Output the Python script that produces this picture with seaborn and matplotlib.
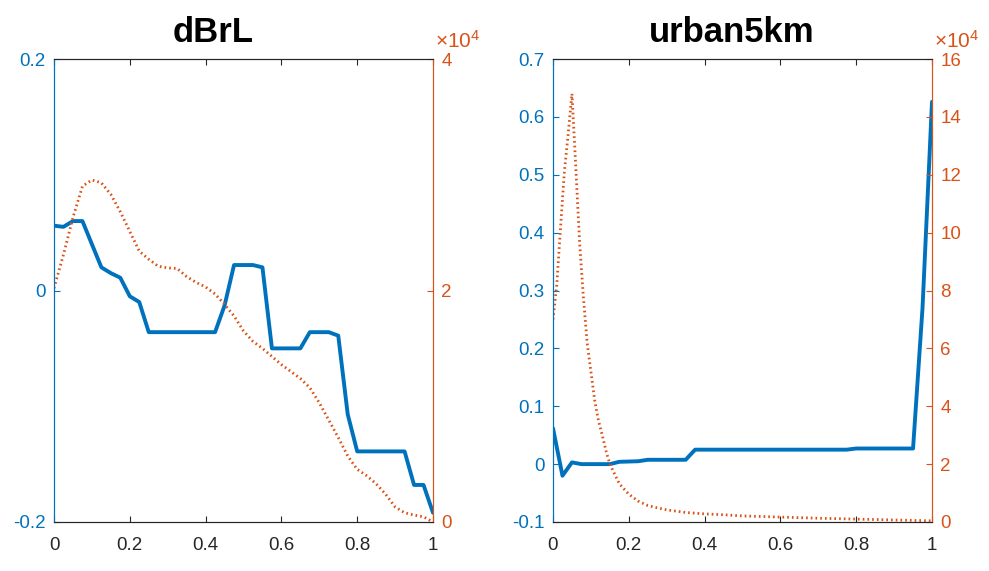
import matplotlib
matplotlib.use("Agg")
import matplotlib.pyplot as plt
import seaborn as sns
from matplotlib.ticker import FuncFormatter, FixedLocator

# ---------------- data ----------------
x_grid = [0.0, 0.025, 0.05, 0.075, 0.1, 0.125, 0.15, 0.175, 0.2, 0.225,
          0.25, 0.275, 0.3, 0.325, 0.35, 0.375, 0.4, 0.425, 0.45, 0.475,
          0.5, 0.525, 0.55, 0.575, 0.6, 0.625, 0.65, 0.675, 0.7, 0.725,
          0.75, 0.775, 0.8, 0.825, 0.85, 0.875, 0.9, 0.925, 0.95, 0.975, 1.0]

dbrl_effect = [0.056, 0.055, 0.060, 0.060, 0.040, 0.020, 0.015, 0.011, -0.005, -0.010,
               -0.036, -0.036, -0.036, -0.036, -0.036, -0.036, -0.036, -0.036, -0.013, 0.022,
               0.022, 0.022, 0.020, -0.050, -0.050, -0.050, -0.050, -0.036, -0.036, -0.036,
               -0.039, -0.107, -0.139, -0.139, -0.139, -0.139, -0.139, -0.139, -0.168, -0.168, -0.192]

dbrl_count = [20200, 23100, 26300, 29000, 29550, 29300, 28300, 26800, 25100, 23400,
              22700, 22100, 21950, 21900, 21200, 20700, 20300, 19700, 18800, 17800,
              16500, 15600, 15000, 14300, 13600, 13000, 12400, 11600, 10300, 8800,
              7300, 5700, 4550, 4000, 3300, 2400, 1300, 800, 600, 450, 0]

urban_effect = [0.062, -0.020, 0.003, 0.0, 0.0, 0.0, 0.0, 0.004, 0.0045, 0.005,
                0.0075, 0.0075, 0.0075, 0.0075, 0.0075, 0.025, 0.025, 0.025, 0.025, 0.025,
                0.025, 0.025, 0.025, 0.025, 0.025, 0.025, 0.025, 0.025, 0.025, 0.025,
                0.025, 0.025, 0.027, 0.027, 0.027, 0.027, 0.027, 0.027, 0.027, 0.27, 0.626]

urban_count_x = [0.0, 0.01, 0.02, 0.03, 0.04, 0.05, 0.06, 0.07, 0.08, 0.09,
                 0.10, 0.11, 0.12, 0.13, 0.14, 0.15, 0.175, 0.2, 0.225, 0.25,
                 0.275, 0.3, 0.35, 0.4, 0.45, 0.5, 0.6, 0.7, 0.8, 0.9, 1.0]
urban_count = [70000, 82000, 102000, 121000, 134000, 148000, 123000, 97000, 78000, 62000,
               52000, 42000, 35000, 30000, 24500, 20000, 13200, 9600, 7200, 5700,
               4900, 4200, 3300, 2800, 2500, 2100, 1700, 1300, 1000, 700, 400]

titles = ["dBrL", "urban5km"]
x_ticks = [0, 0.2, 0.4, 0.6, 0.8, 1]
left_ticks = [[-0.2, 0, 0.2], [-0.1, 0, 0.1, 0.2, 0.3, 0.4, 0.5, 0.6, 0.7]]
left_lims = [(-0.2, 0.2), (-0.1, 0.7)]
right_ticks = [[0, 20000, 40000], [0, 20000, 40000, 60000, 80000, 100000, 120000, 140000, 160000]]
right_lims = [(0, 40000), (0, 160000)]

# ---------------- style ----------------
BLUE = "#0072BD"
ORANGE = "#D95319"
DARK = "#262626"

sns.set_theme(style="white")
plt.rcParams["font.family"] = ["Liberation Sans", "DejaVu Sans"]
plt.rcParams["axes.unicode_minus"] = False
plt.rcParams["mathtext.fontset"] = "custom"
plt.rcParams["mathtext.rm"] = "Liberation Sans"

fig = plt.figure(figsize=(9.89, 5.71), dpi=100)
W, H = 989, 571
positions = [(54, 433), (553, 932)]
title_x = [0.42, 0.472]
top_px, bot_px = 59, 522

panels = [
    (x_grid, dbrl_effect, x_grid, dbrl_count),
    (x_grid, urban_effect, urban_count_x, urban_count),
]

fmt_g = FuncFormatter(lambda v, p: "%g" % round(v, 6))
fmt_e4 = FuncFormatter(lambda v, p: "%g" % (v / 1e4))

for i, (xb, yb, xo, yo) in enumerate(panels):
    l, r = positions[i]
    ax = fig.add_axes([l / W, 1 - bot_px / H, (r - l) / W, (bot_px - top_px) / H])
    ax2 = ax.twinx()

    sns.lineplot(x=xb, y=yb, ax=ax, color=BLUE, linewidth=2.8, sort=False)
    sns.lineplot(x=xo, y=yo, ax=ax2, color=ORANGE, linewidth=2.0, sort=False,
                 linestyle=(0, (0.6, 1.1)))

    ax.set_xlim(0, 1)
    ax.set_ylim(*left_lims[i])
    ax2.set_ylim(*right_lims[i])
    ax.xaxis.set_major_locator(FixedLocator(x_ticks))
    ax.xaxis.set_major_formatter(fmt_g)
    ax.yaxis.set_major_locator(FixedLocator(left_ticks[i]))
    ax.yaxis.set_major_formatter(fmt_g)
    ax2.yaxis.set_major_locator(FixedLocator(right_ticks[i]))
    ax2.yaxis.set_major_formatter(fmt_e4)
    ax.set_xlabel("")
    ax.set_ylabel("")
    ax2.set_ylabel("")

    for a in (ax, ax2):
        for s in a.spines.values():
            s.set_visible(True)
            s.set_linewidth(0.8)
        a.spines["top"].set_color(DARK)
        a.spines["bottom"].set_color(DARK)
        a.spines["left"].set_color(BLUE)
        a.spines["right"].set_color(ORANGE)

    ax.tick_params(axis="x", which="both", direction="in", top=True, bottom=True,
                   length=4, width=0.8, color=DARK, labelcolor=DARK, labelsize=13.5, pad=11)
    ax.tick_params(axis="y", direction="in", left=True, right=False, length=4,
                   width=0.8, color=BLUE, labelcolor=BLUE, labelsize=13.5, pad=6)
    ax2.tick_params(axis="y", direction="in", right=True, left=False, length=4,
                    width=0.8, color=ORANGE, labelcolor=ORANGE, labelsize=13.5, pad=6)

    ax.set_title(titles[i], fontsize=25, fontweight="bold", color="black",
                 x=title_x[i], pad=12)
    ax2.annotate(r"$\times\mathregular{10^4}$", xy=(1.0, 1.0), xycoords="axes fraction",
                 xytext=(1.5, 8), textcoords="offset points",
                 ha="left", va="baseline", color=ORANGE, fontsize=15)

fig.savefig("out.png", dpi=100, facecolor="white")
